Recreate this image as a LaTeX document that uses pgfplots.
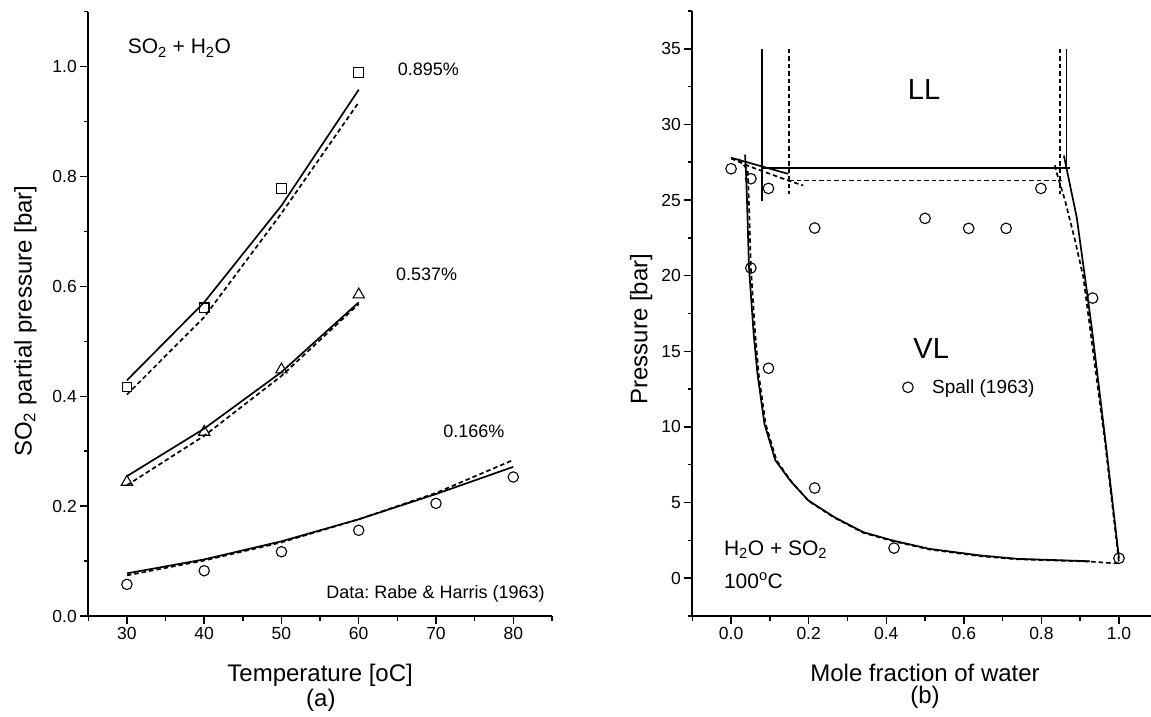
\documentclass[border=0pt]{standalone}
\usepackage{fontspec}
\setmainfont{Liberation Sans}
\usepackage{pgfplots}
\pgfplotsset{compat=1.18}
\frenchspacing
\newcommand{\tickf}{\fontsize{17.5}{20}\selectfont}
\pgfplotsset{
  mystyle/.style={
    scale only axis,
    axis lines*=left,
    axis line style={line width=1.8pt},
    tick align=outside,
    major tick length=8pt,
    minor tick length=4.5pt,
    tick style={line width=1.5pt, black},
    label style={font=\fontsize{24}{28}\selectfont},
    /pgf/number format/assume math mode=true,
    clip=false,
  },
  solidc/.style={black, line width=1.7pt},
  dashc/.style={black, line width=1.7pt, dash pattern=on 4.5pt off 3pt},
  mk/.style={only marks, black, mark options={line width=1.1pt, fill=white}},
}
\newcommand{\ann}{\fontsize{18}{21}\selectfont}
\newcommand{\bigf}{\fontsize{21}{24}\selectfont}
\newcommand{\hugef}{\fontsize{29}{32}\selectfont}
\begin{document}
\begin{tikzpicture}
\useasboundingbox (-88.3pt,-101pt) rectangle (1062.7pt,616pt);
% ---------------- (a) ----------------
\begin{axis}[mystyle,
  at={(0pt,0pt)}, anchor=south west,
  width=463.6pt, height=604.3pt,
  xmin=25, xmax=85, ymin=0, ymax=1.1,
  xtick={30,40,50,60,70,80},
  minor xtick={25,35,45,55,65,75,85},
  ytick={0,0.2,0.4,0.6,0.8,1.0},
  minor ytick={0.1,0.3,0.5,0.7,0.9,1.1},
  xticklabel={\tickf\pgfmathprintnumber{\tick}},
  yticklabel={\tickf\pgfmathprintnumber[fixed,fixed zerofill,precision=1]{\tick}},
  xlabel={Temperature [oC]},
  ylabel={SO\textsubscript{2} partial pressure [bar]},
  xlabel style={at={(axis description cs:0.5,0)}, anchor=base, yshift=-65pt},
  ylabel style={at={(axis description cs:0,0.488)}, anchor=base, yshift=56.6pt},
]
% 0.895 %
\addplot[solidc] coordinates {(30,0.429) (40,0.571) (50,0.747) (60,0.958)};
\addplot[dashc] coordinates {(30,0.403) (40,0.544) (50,0.733) (60,0.935)};
\addplot[mk, mark=square, mark size=4.8pt] coordinates {(30,0.417) (40,0.561) (50,0.778) (60,0.989)};
% 0.537 %
\addplot[solidc] coordinates {(30,0.2545) (40,0.341) (50,0.444) (60,0.571)};
\addplot[dashc] coordinates {(30,0.238) (40,0.328) (50,0.437) (60,0.568)};
\addplot[mk, mark=triangle, mark size=6.5pt] coordinates {(30,0.244) (40,0.335) (50,0.4485) (60,0.585)};
% 0.166 %
\addplot[solidc] coordinates {(30,0.0776) (40,0.103) (50,0.136) (60,0.176) (70,0.222) (80,0.2715)};
\addplot[dashc] coordinates {(30,0.074) (40,0.101) (50,0.134) (60,0.176) (70,0.224) (80,0.284)};
\addplot[mk, mark=o, mark size=5.2pt] coordinates {(30,0.0576) (40,0.0824) (50,0.117) (60,0.156) (70,0.205) (80,0.253)};
\node[anchor=base west, font=\bigf, inner sep=0pt] at (axis cs:30.09,1.023) {SO\textsubscript{2} + H\textsubscript{2}O};
\node[anchor=base west, font=\ann, inner sep=0pt] at (axis cs:65.04,0.983) {0.895\%};
\node[anchor=base west, font=\ann, inner sep=0pt] at (axis cs:64.81,0.6116) {0.537\%};
\node[anchor=base west, font=\ann, inner sep=0pt] at (axis cs:70.93,0.3245) {0.166\%};
\node[anchor=base west, font=\ann, inner sep=0pt] at (axis cs:55.8,0.0322) {Data: Rabe \& Harris (1963)};
\node[anchor=base, font=\fontsize{24}{28}\selectfont, inner sep=0pt] at (axis cs:55.1,-0.1656) {(a)};
\end{axis}
% ---------------- (b) ----------------
\begin{axis}[mystyle,
  at={(604pt,0pt)}, anchor=south west,
  width=458.7pt, height=605pt,
  xmin=-0.1, xmax=1.0825, ymin=-2.5, ymax=37.5,
  xtick={0,0.2,0.4,0.6,0.8,1.0},
  minor xtick={-0.1,0.1,0.3,0.5,0.7,0.9},
  ytick={0,5,10,15,20,25,30,35},
  minor ytick={-2.5,2.5,7.5,12.5,17.5,22.5,27.5,32.5,37.5},
  xticklabel={\tickf\pgfmathprintnumber[fixed,fixed zerofill,precision=1]{\tick}},
  yticklabel={\tickf\pgfmathprintnumber{\tick}},
  xlabel={Mole fraction of water},
  ylabel={Pressure [bar]},
  xlabel style={at={(axis cs:0.5,-2.5)}, anchor=base, yshift=-65pt},
  ylabel style={at={(axis description cs:0,0.474)}, anchor=base, yshift=45pt},
  legend style={at={(axis cs:0.4404,12.62)}, anchor=west, draw=none, fill=none,
    inner sep=0pt, font=\fontsize{19}{22}\selectfont},
  legend cell align=left,
  legend image code/.code={\path[draw=none] (-0.5pt,0pt) -- (27.5pt,0pt); \draw[#1, only marks] plot coordinates {(5.3pt,0pt)};},
]
% three-phase lines
\addplot[solidc, forget plot] coordinates {(0.079,35) (0.079,24.95)};
\addplot[dashc, forget plot] coordinates {(0.15,35) (0.15,25.4)};
\addplot[solidc, forget plot] coordinates {(0.865,35) (0.865,27.1)};
\addplot[dashc, forget plot] coordinates {(0.848,35) (0.848,25.4)};
\addplot[solidc, forget plot] coordinates {(0.079,27.1) (0.874,27.1)};
\addplot[dashc, forget plot] coordinates {(0.15,26.3) (0.852,26.3)};
% metastable extensions near SO2 side
\addplot[solidc, forget plot] coordinates {(0.0,27.8) (0.1475,26.73)};
\addplot[dashc, forget plot] coordinates {(0.0,27.75) (0.05,27.2) (0.1475,26.29) (0.186,25.96)};
% dew / bubble curves
\addplot[solidc, forget plot] coordinates {
 (0.036,28.0) (0.038,27.1) (0.041,25.0) (0.046,20.6) (0.058,16.2) (0.068,13.5)
 (0.086,10.2) (0.114,7.8) (0.152,6.46) (0.199,5.14) (0.266,4.04) (0.341,3.04)
 (0.417,2.49) (0.511,1.94) (0.644,1.5) (0.738,1.28) (0.925,1.12)};
\addplot[dashc, forget plot] coordinates {
 (0.02,27.7) (0.043,27.0) (0.047,24.0) (0.051,20.5) (0.062,16.2) (0.071,13.5)
 (0.089,10.2) (0.117,7.8) (0.155,6.4) (0.2,5.1) (0.266,4.0) (0.341,3.0)
 (0.417,2.45) (0.511,1.9) (0.644,1.45) (0.738,1.25) (0.925,1.1) (0.985,0.99) (1.0,1.0)};
\addplot[solidc, forget plot] coordinates {
 (0.858,27.94) (0.865,27.06) (0.891,23.86) (0.917,19.0) (0.93,16.5) (0.964,9.3) (1.0,1.32)};
\addplot[dashc, forget plot] coordinates {
 (0.835,27.3) (0.839,26.83) (0.861,24.96) (0.887,22.3) (0.908,19.9) (0.925,16.6) (0.964,9.0) (1.0,1.0)};
% data
\addplot[mk, mark=o, mark size=5.3pt] coordinates {
 (0.0,27.07) (0.051,26.41) (0.0964,25.77) (0.2155,23.15) (0.5,23.79) (0.6125,23.13)
 (0.709,23.13) (0.7987,25.77) (0.051,20.51) (0.932,18.52) (0.0964,13.88)
 (0.2155,5.96) (0.42,1.99) (1.0,1.32)};
\addlegendentry{Spall (1963)}
\node[anchor=base west, font=\hugef, inner sep=0pt] at (axis cs:0.4553,31.66) {LL};
\node[anchor=base west, font=\hugef, inner sep=0pt] at (axis cs:0.4695,14.54) {VL};
\node[anchor=base west, font=\bigf, inner sep=0pt] at (axis cs:-0.0188,1.533) {H\textsubscript{2}O + SO\textsubscript{2}};
\node[anchor=base west, font=\bigf, inner sep=0pt] at (axis cs:-0.0188,-0.669) {100\textsuperscript{o}C};
\node[anchor=base, font=\fontsize{24}{28}\selectfont, inner sep=0pt] at (axis cs:0.5,-8.318) {(b)};
\end{axis}
\end{tikzpicture}
\end{document}
